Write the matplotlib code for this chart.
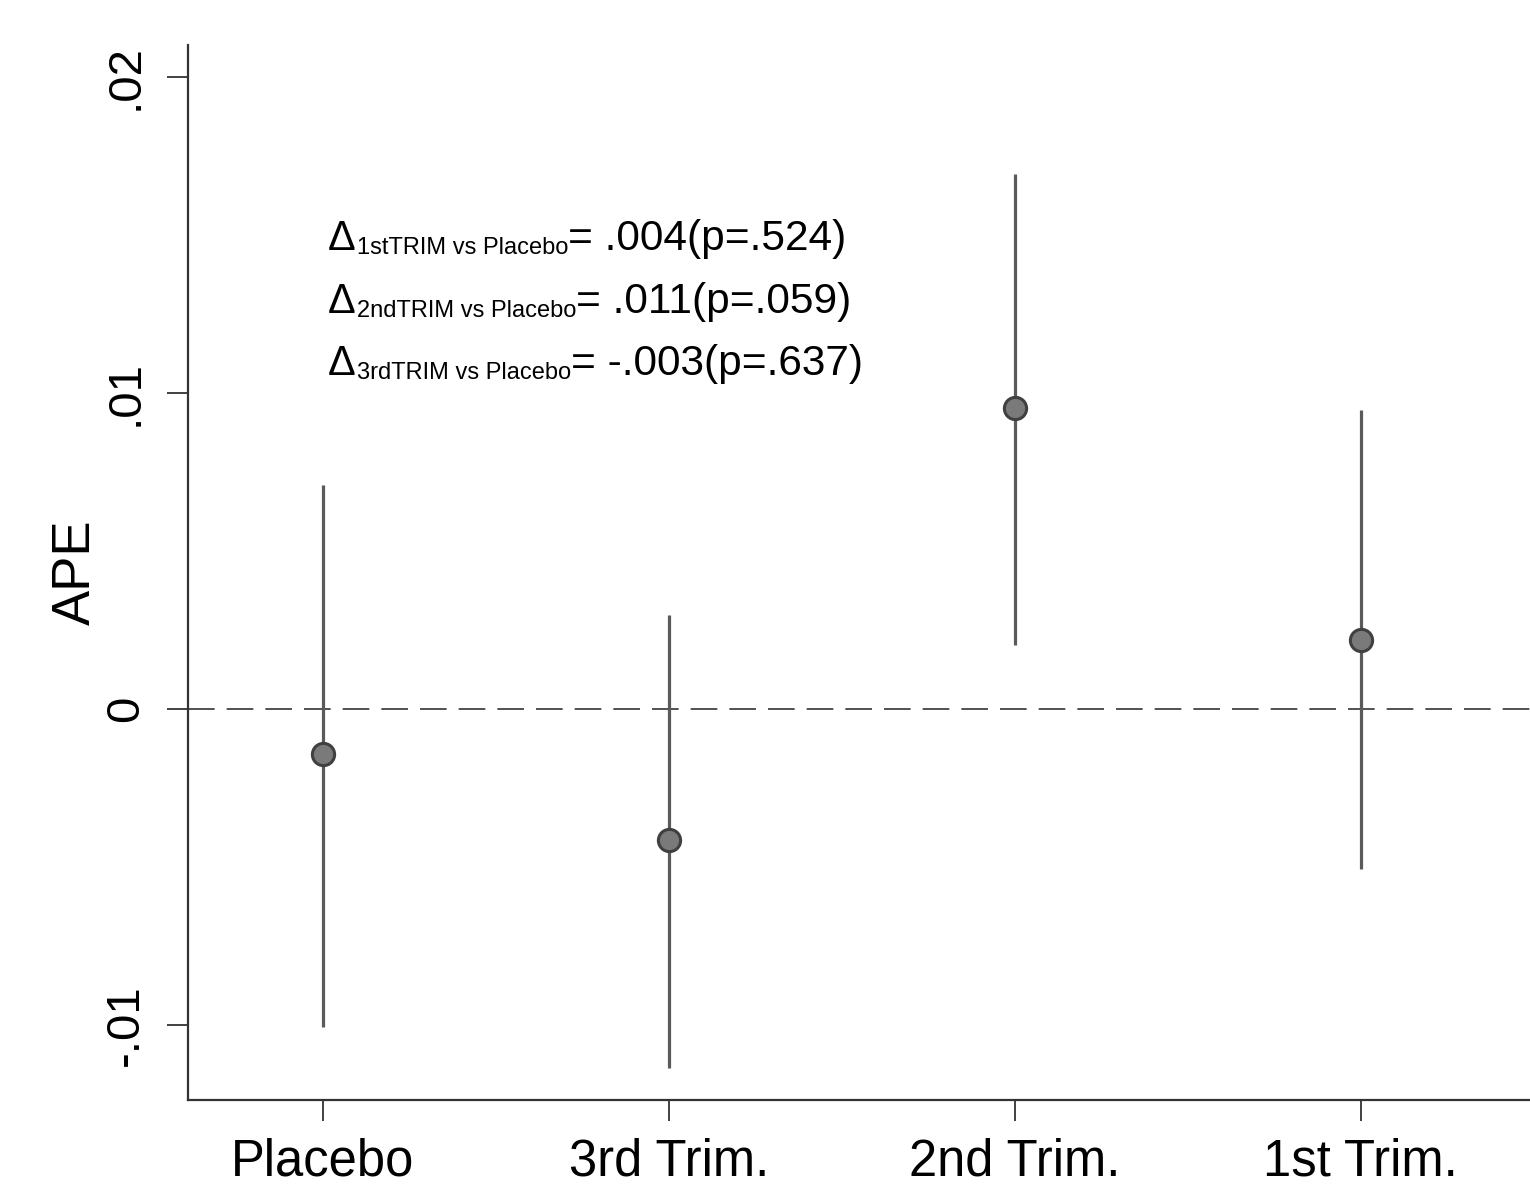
import numpy as np
import matplotlib.pyplot as plt
from matplotlib.transforms import IdentityTransform

plt.rcParams['font.family'] = ['Liberation Sans', 'DejaVu Sans']

# data
groups = ['Placebo', '3rd Trim.', '2nd Trim.', '1st Trim.']
ape = [-0.00142, -0.00415, 0.00953, 0.00218]
ci_low = [-0.01006, -0.01136, 0.00203, -0.00506]
ci_high = [0.00709, 0.00297, 0.01693, 0.00946]
sub_labels = ['1stTRIM vs Placebo', '2ndTRIM vs Placebo', '3rdTRIM vs Placebo']
diff_labels = ['= .004(p=.524)', '= .011(p=.059)', '= -.003(p=.637)']
note_y = [0.01453, 0.01253, 0.01057]

x = np.arange(1, len(groups) + 1)

fig = plt.figure(figsize=(15.3, 11.88), dpi=100)
ax = fig.add_axes([0.1229, 0.0741, 0.8771, 0.888])

ax.axhline(0, color='#333333', lw=1.2, dashes=(16, 7.2), zorder=1)
ax.vlines(x, ci_low, ci_high, color='#5a5a5a', lw=2.3, zorder=2)
ax.plot(x, ape, 'o', ms=16, mfc='#7a7a7a', mec='#404040', mew=2.2, zorder=3)

ax.set_xlim(0.61, 4.49)
ax.set_ylim(-0.01237, 0.0210)
ax.set_xticks(x)
ax.set_xticklabels(groups, fontsize=36.5)
ax.set_yticks([-0.01, 0, 0.01, 0.02])
ax.set_yticklabels(['-.01', '0', '.01', '.02'], fontsize=34, rotation=90, va='center')
ax.set_ylabel('APE', fontsize=38, labelpad=2)
ax.tick_params(axis='both', length=15, width=1.3, color='#333333', pad=14)
ax.tick_params(axis='x', pad=12)

for s in ['top', 'right']:
    ax.spines[s].set_visible(False)
for s in ['left', 'bottom']:
    ax.spines[s].set_linewidth(1.6)
    ax.spines[s].set_color('#333333')

# annotation lines: Delta + small subscript + result text
renderer = fig.canvas.get_renderer()
for sub, diff, yy in zip(sub_labels, diff_labels, note_y):
    px, py = ax.transData.transform((1.015, yy))
    t1 = ax.text(px, py, '\u0394', fontsize=30, va='baseline', ha='left',
                 transform=IdentityTransform())
    x1 = t1.get_window_extent(renderer).x1
    t2 = ax.text(x1 + 1, py - 4, sub, fontsize=17, va='baseline', ha='left',
                 transform=IdentityTransform())
    x2 = t2.get_window_extent(renderer).x1
    ax.text(x2, py, diff, fontsize=30.5, va='baseline', ha='left',
            transform=IdentityTransform())

fig.savefig('out.png', dpi=100)
